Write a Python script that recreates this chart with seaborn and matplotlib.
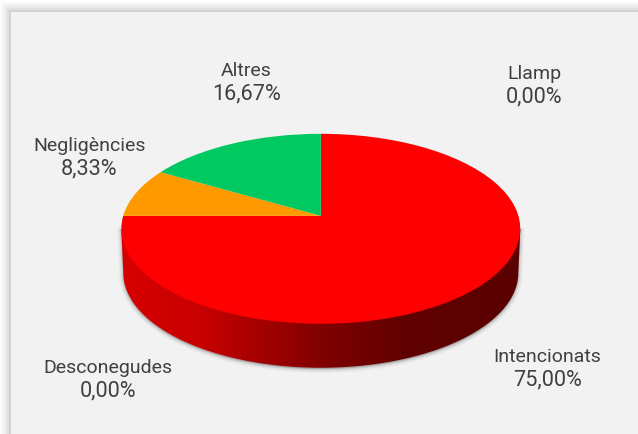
import numpy as np
import matplotlib
matplotlib.use("Agg")
import matplotlib.pyplot as plt
import seaborn as sns
from matplotlib.colors import LinearSegmentedColormap
from matplotlib.patches import Polygon, Rectangle
from matplotlib.transforms import Transform

# Forest fires by cause, share of the total (%)
causes = ["Intencionats", "Desconegudes", "Negligències", "Altres", "Llamp"]
shares = [75.00, 0.00, 8.33, 16.67, 0.00]
slice_colors = ["#FF0000", "#7F7F7F", "#FF9900", "#00C961", "#FFC000"]

# Label anchors (baseline of the first line) in figure pixels
label_x = [547.5, 108, 89.5, 246.5, 534]
label_y = [362, 373, 151, 76, 79]
LINE_STEP = 23.5

sns.set_theme(style="white")
plt.rcParams["font.family"] = ["Roboto", "DejaVu Sans"]

W, H = 638, 435
CX, CY, RX, RY, K = 320.8, 216.8, 197.6, 93.2, 0.1368
DEPTH = 44.0
PANEL = "#F2F2F2"


class TiltedDisc(Transform):
    """Perspective view of the unit disc, output in pixel coordinates."""
    input_dims = output_dims = 2

    def __init__(self, dy=0.0, sx=1.0):
        super().__init__()
        self.dy, self.sx = dy, sx

    def transform_non_affine(self, xy):
        xy = np.asarray(xy, dtype=float)
        w = 1 + K * xy[:, 1]
        return np.column_stack([CX + self.sx * RX * xy[:, 0] / w,
                                CY + self.dy - RY * xy[:, 1] / w])


def unit_points(a0, a1, n=160):
    t = np.radians(np.linspace(a0, a1, n))
    return np.column_stack([np.cos(t), np.sin(t)])


fig = plt.figure(figsize=(W / 100, H / 100), dpi=100, facecolor="white")
ax = fig.add_axes([0, 0, 1, 1])

# Drawing the pie first: it resets limits and aspect, restored right after
wedges, _ = ax.pie(shares, colors=sns.color_palette(slice_colors), startangle=90,
                   counterclock=False, radius=1.0, center=(0, 0))
ax.set_aspect("auto")
ax.set_xlim(0, W)
ax.set_ylim(H, 0)
ax.set_axis_off()
ax.set_frame_on(False)

top = TiltedDisc()
for w in wedges:
    w.set_transform(top + ax.transData)
    w.set_edgecolor("none")
    w.set_zorder(5)

# Panel with a soft grey shadow round its top and left edges
for grow, alpha in zip([10, 8, 6, 4, 2], [0.04, 0.05, 0.06, 0.08, 0.12]):
    ax.add_patch(Rectangle((11 - grow, 13 - grow), W, H, fc="#707070", ec="none",
                           alpha=alpha, zorder=0))
ax.add_patch(Rectangle((11, 13), W, H, fc=PANEL, ec="none", zorder=1))

# Side wall of the disc
bottom = TiltedDisc(dy=DEPTH, sx=0.99)
wall_pts = np.vstack([top.transform_non_affine(unit_points(188, 188, 1)),
                      bottom.transform_non_affine(unit_points(188, 352)),
                      top.transform_non_affine(unit_points(352, 352, 1))])

# Thin blurred shadow following the wall
for lw, alpha in zip([6, 4, 2.5, 1.2], [0.05, 0.07, 0.10, 0.14]):
    ax.add_patch(Polygon(wall_pts + [0, 1], closed=True, fc="#606060", ec="#606060",
                         lw=lw, alpha=alpha, zorder=2, joinstyle="round"))

wall_cmap = LinearSegmentedColormap.from_list(
    "wall", [(0, "#D80000"), (0.2, "#C80000"), (0.5, "#800000"),
             (0.72, "#600000"), (1, "#5A0000")])
wall_img = ax.imshow(np.linspace(0, 1, 256)[None, :], cmap=wall_cmap, aspect="auto",
                     extent=(120, 522, 400, 200), zorder=3, interpolation="bilinear")
wall_clip = Polygon(wall_pts, closed=True, transform=ax.transData)
wall_img.set_clip_path(wall_clip)
ax.set_xlim(0, W)
ax.set_ylim(H, 0)

# Labels: cause name above its share, written with a decimal comma
for name, value, x, y in zip(causes, shares, label_x, label_y):
    ax.text(x, y, name, ha="center", va="baseline", fontsize=14, color="#404040", zorder=6)
    ax.text(x, y + LINE_STEP, f"{value:.2f}%".replace(".", ","), ha="center", va="baseline",
            fontsize=15.6, color="#404040", zorder=6)

fig.savefig("out.png", dpi=100)
